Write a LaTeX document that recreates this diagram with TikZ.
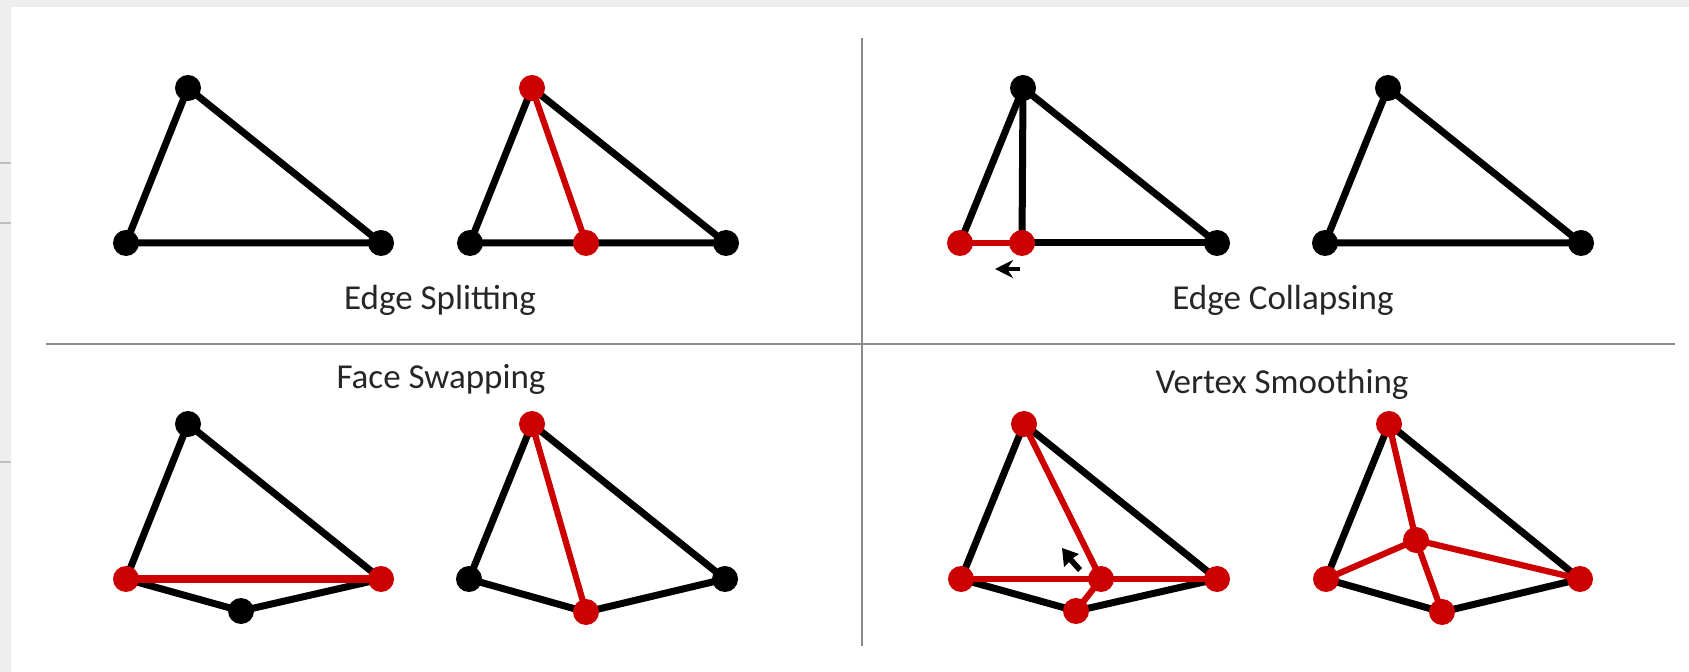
\documentclass[tikz,border=0pt]{standalone}
\usepackage{fontspec}
\setmainfont{Carlito}
\usetikzlibrary{arrows.meta}
\definecolor{myred}{RGB}{204,0,0}
\definecolor{stripgray}{RGB}{238,238,238}
\definecolor{divgray}{RGB}{140,140,140}
\begin{document}
\begin{tikzpicture}[x=0.5pt,y=-0.5pt,
  vtx/.style={circle,fill=black,inner sep=0pt,minimum size=13pt},
  rvtx/.style={circle,fill=myred,inner sep=0pt,minimum size=13pt},
  edg/.style={line width=3.5pt,black,line cap=round},
  redg/.style={line width=3.1pt,myred,line cap=round},
  divider/.style={line width=1pt,divgray},
  lbl/.style={font=\fontsize{17.5}{20}\selectfont,text=black!85,inner sep=0pt}]
\useasboundingbox (0,0) rectangle (1689,672);
\fill[white] (0,0) rectangle (1689,672);
\fill[stripgray] (0,0) rectangle (1689,7);
\fill[stripgray] (0,0) rectangle (11,672);
\draw[black!25,line width=0.6pt] (0,163) -- (11,163);
\draw[black!25,line width=0.6pt] (0,223) -- (11,223);
\draw[black!25,line width=0.6pt] (0,462) -- (11,462);

% dividers
\coordinate (hL) at (46,344);
\coordinate (hR) at (1675,344);
\coordinate (vT) at (862,38);
\coordinate (vB) at (862,646);
\draw[divider] (hL) -- (hR);
\draw[divider] (vT) -- (vB);

% ---------- Edge Splitting ----------
\coordinate (a1) at (188,88);
\coordinate (b1) at (126,243);
\coordinate (c1) at (381,243);
\draw[edg] (a1) -- (b1) -- (c1) -- cycle;

\coordinate (a2) at (532,88);
\coordinate (b2) at (470,243);
\coordinate (c2) at (726,243);
\coordinate (m2) at (586,243);
\draw[edg] (a2) -- (b2) -- (c2) -- cycle;
\draw[redg] (a2) -- (m2);

\node[vtx] at (a1) {};
\node[vtx] at (b1) {};
\node[vtx] at (c1) {};
\node[rvtx] at (a2) {};
\node[vtx] at (b2) {};
\node[vtx] at (c2) {};
\node[rvtx] at (m2) {};
\node[lbl] (t1) at (440,300) {Edge Splitting};

% ---------- Edge Collapsing ----------
\coordinate (a3) at (1023,88);
\coordinate (b3) at (960,243);
\coordinate (m3) at (1022,243);
\coordinate (c3) at (1217,243);
\draw[edg] (a3) -- (b3);
\draw[edg] (a3) -- (m3);
\draw[edg] (a3) -- (c3);
\draw[edg] (m3) -- (c3);
\draw[redg] (b3) -- (m3);
\node[rvtx] at (b3) {};
\node[rvtx] at (m3) {};
\node[vtx] at (a3) {};
\node[vtx] at (c3) {};
\coordinate (arS) at (1020,269);
\coordinate (arE) at (995,269);
\draw[line width=2.2pt,-{Stealth[length=9pt,width=9pt]}] (arS) -- (arE);

\coordinate (a4) at (1388,88);
\coordinate (b4) at (1325,243);
\coordinate (c4) at (1581,243);
\draw[edg] (a4) -- (b4) -- (c4) -- cycle;
\node[vtx] at (a4) {};
\node[vtx] at (b4) {};
\node[vtx] at (c4) {};
\node[lbl] (t2) at (1283,300) {Edge Collapsing};

% ---------- Face Swapping ----------
\coordinate (a5) at (188,424);
\coordinate (b5) at (126,579);
\coordinate (c5) at (381,579);
\coordinate (d5) at (241,611);
\draw[edg] (b5) -- (a5) -- (c5);
\draw[edg] (b5) -- (d5) -- (c5);
\draw[redg,line width=3.6pt] (b5) -- (c5);
\node[vtx] at (a5) {};
\node[rvtx] at (b5) {};
\node[rvtx] at (c5) {};
\node[vtx] at (d5) {};

\coordinate (a6) at (532,424);
\coordinate (b6) at (469,579);
\coordinate (c6) at (725,579);
\coordinate (d6) at (586,612);
\draw[edg] (b6) -- (a6) -- (c6);
\draw[edg] (b6) -- (d6) -- (c6);
\draw[redg] (a6) -- (d6);
\node[rvtx] at (a6) {};
\node[vtx] at (b6) {};
\node[vtx] at (c6) {};
\node[rvtx] at (d6) {};
\node[lbl] (t3) at (441,379) {Face Swapping};

% ---------- Vertex Smoothing ----------
\coordinate (a7) at (1024,424);
\coordinate (b7) at (961,579);
\coordinate (c7) at (1217,579);
\coordinate (d7) at (1076,611);
\coordinate (e7) at (1101,579);
\draw[edg] (b7) -- (a7) -- (c7);
\draw[edg] (b7) -- (d7) -- (c7);
\draw[redg] (b7) -- (c7);
\draw[redg] (a7) -- (e7) -- (d7);
\node[rvtx] at (a7) {};
\node[rvtx] at (b7) {};
\node[rvtx] at (c7) {};
\node[rvtx] at (d7) {};
\node[rvtx] at (e7) {};
% cursor
\coordinate (cur) at (1062,548);
\fill[black] (cur) -- ++(2,19) -- ++(5,-5) -- ++(9,10) -- ++(4,-4) -- ++(-9,-10) -- ++(6,-4) -- cycle;

\coordinate (a8) at (1389,424);
\coordinate (b8) at (1326,579);
\coordinate (c8) at (1580,579);
\coordinate (d8) at (1442,612);
\coordinate (e8) at (1416,540);
\draw[edg] (b8) -- (a8) -- (c8);
\draw[edg] (b8) -- (d8) -- (c8);
\draw[redg] (a8) -- (e8) -- (d8);
\draw[redg] (b8) -- (e8) -- (c8);
\node[rvtx] at (a8) {};
\node[rvtx] at (b8) {};
\node[rvtx] at (c8) {};
\node[rvtx] at (d8) {};
\node[rvtx] at (e8) {};
\node[lbl] (t4) at (1282,384) {Vertex Smoothing};
\end{tikzpicture}
\end{document}
